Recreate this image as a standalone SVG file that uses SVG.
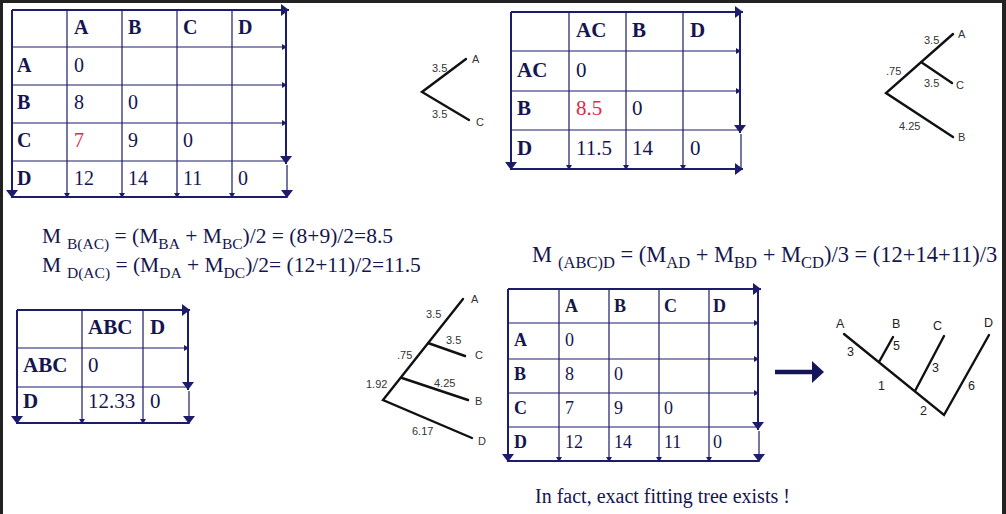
<svg xmlns="http://www.w3.org/2000/svg" width="1006" height="514" viewBox="0 0 1006 514">
<style>
.g{stroke:#1c1c6b;stroke-width:1.2;fill:none}
.gt{stroke:#1c1c6b;stroke-width:2;fill:none}
.h{font-family:"Liberation Serif",serif;font-weight:bold;fill:#15154f}
.v{font-family:"Liberation Serif",serif;fill:#15154f}
.red{fill:#e0284a}
.t1{font-size:20px}
.t2{font-size:21px}
.t4{font-size:18px}
.e{stroke:#111;stroke-width:2.4;fill:none;stroke-linecap:round}
.l{font-family:"Liberation Sans",Arial,sans-serif;font-size:11px;fill:#333}
.lf{font-family:"Liberation Sans",Arial,sans-serif;font-size:12.5px;fill:#222}
.f{font-family:"Liberation Serif",serif;font-size:21.5px;fill:#15154f}
.s{font-size:15.5px}
.f3{font-size:22.5px}
.s3{font-size:16.5px}
</style>
<defs>
<marker id="sm" viewBox="0 0 5 6" refX="5" refY="3" markerWidth="5" markerHeight="6" orient="auto" markerUnits="userSpaceOnUse"><path d="M0,0L5,3L0,6z" fill="#1c1c6b"/></marker>
<marker id="lg" viewBox="0 0 8 12" refX="8" refY="6" markerWidth="8" markerHeight="12" orient="auto" markerUnits="userSpaceOnUse"><path d="M0,0L8,6L0,12z" fill="#1c1c6b"/></marker>
</defs>
<rect width="1006" height="514" fill="#fff"/>
<rect x="0" y="0" width="1006" height="3" fill="#222"/>
<rect x="0" y="0" width="3" height="514" fill="#222"/>
<rect x="1002" y="0" width="4" height="514" fill="#222"/>

<!-- Table 1 -->
<g id="table1">
<g class="g">
<path class="gt" d="M12,10H289" marker-end="url(#lg)"/>
<path d="M12,47H287" marker-end="url(#sm)"/>
<path d="M12,85H287" marker-end="url(#sm)"/>
<path d="M12,123H287" marker-end="url(#sm)"/>
<path d="M12,161H286"/>
<path class="gt" d="M286,10V164" marker-end="url(#lg)"/>
<path d="M287,165V198" marker-end="url(#lg)"/>
<path class="gt" d="M12,197H287"/>
<path class="gt" d="M12,10V198" marker-end="url(#lg)"/>
<path d="M67,10V198" marker-end="url(#sm)"/>
<path d="M122,10V198" marker-end="url(#sm)"/>
<path d="M177,10V198" marker-end="url(#sm)"/>
<path d="M232,10V198" marker-end="url(#sm)"/>
</g>
<g class="h t1"><text x="74" y="34">A</text><text x="128" y="34">B</text><text x="183" y="34">C</text><text x="238" y="34">D</text>
<text x="17" y="72">A</text><text x="17" y="109">B</text><text x="17" y="147">C</text><text x="17" y="185">D</text></g>
<g class="v t1"><text x="74" y="72">0</text><text x="74" y="109">8</text><text x="128" y="109">0</text>
<text x="74" y="147" class="red">7</text><text x="128" y="147">9</text><text x="183" y="147">0</text>
<text x="74" y="185">12</text><text x="128" y="185">14</text><text x="183" y="185">11</text><text x="238" y="185">0</text></g>
</g>

<!-- Table 2 -->
<g id="table2">
<g class="g">
<path class="gt" d="M511,12H743" marker-end="url(#lg)"/>
<path d="M511,51H741" marker-end="url(#sm)"/>
<path d="M511,91H741" marker-end="url(#sm)"/>
<path d="M511,130H740"/>
<path class="gt" d="M740,12V133" marker-end="url(#lg)"/>
<path d="M741,134V168"/>
<path class="gt" d="M511,169H743" marker-end="url(#lg)"/>
<path class="gt" d="M511,12V170" marker-end="url(#lg)"/>
<path d="M569,12V170" marker-end="url(#sm)"/>
<path d="M626,12V170" marker-end="url(#sm)"/>
<path d="M683,12V170" marker-end="url(#sm)"/>
</g>
<g class="h t2"><text x="576" y="37">AC</text><text x="632" y="37">B</text><text x="690" y="37">D</text>
<text x="517" y="77">AC</text><text x="517" y="115">B</text><text x="517" y="155">D</text></g>
<g class="v t2"><text x="576" y="77">0</text><text x="576" y="115" class="red">8.5</text><text x="632" y="115">0</text>
<text x="576" y="155">11.5</text><text x="632" y="155">14</text><text x="690" y="155">0</text></g>
</g>

<!-- Table 3 -->
<g id="table3">
<g class="g">
<path class="gt" d="M17,310H190" marker-end="url(#lg)"/>
<path d="M17,348H189" marker-end="url(#sm)"/>
<path d="M17,387H188"/>
<path class="gt" d="M188,310V390" marker-end="url(#lg)"/>
<path d="M189,391V424" marker-end="url(#lg)"/>
<path class="gt" d="M17,423H189"/>
<path class="gt" d="M17,310V424" marker-end="url(#lg)"/>
<path d="M82,310V424" marker-end="url(#sm)"/>
<path d="M143,310V424" marker-end="url(#sm)"/>
</g>
<g class="h t2"><text x="88" y="334">ABC</text><text x="150" y="334">D</text>
<text x="23" y="372">ABC</text><text x="23" y="408">D</text></g>
<g class="v t2"><text x="88" y="372">0</text><text x="88" y="408">12.33</text><text x="150" y="408">0</text></g>
</g>

<!-- Table 4 -->
<g id="table4">
<g class="g">
<path class="gt" d="M508,289H761" marker-end="url(#lg)"/>
<path d="M508,323H759" marker-end="url(#sm)"/>
<path d="M508,359H759" marker-end="url(#sm)"/>
<path d="M508,393H759" marker-end="url(#sm)"/>
<path d="M508,427H758"/>
<path class="gt" d="M758,289V430" marker-end="url(#lg)"/>
<path d="M759,431V462" marker-end="url(#lg)"/>
<path class="gt" d="M508,461H759"/>
<path class="gt" d="M508,289V462" marker-end="url(#lg)"/>
<path d="M559,289V462" marker-end="url(#sm)"/>
<path d="M609,289V462" marker-end="url(#sm)"/>
<path d="M659,289V462" marker-end="url(#sm)"/>
<path d="M709,289V462" marker-end="url(#sm)"/>
</g>
<g class="h t4"><text x="565" y="312">A</text><text x="614" y="312">B</text><text x="664" y="312">C</text><text x="713" y="312">D</text>
<text x="514" y="346">A</text><text x="514" y="380">B</text><text x="514" y="414">C</text><text x="514" y="448">D</text></g>
<g class="v t4"><text x="565" y="346">0</text><text x="565" y="380">8</text><text x="614" y="380">0</text>
<text x="565" y="414">7</text><text x="614" y="414">9</text><text x="664" y="414">0</text>
<text x="565" y="448">12</text><text x="614" y="448">14</text><text x="664" y="448">11</text><text x="713" y="448">0</text></g>
</g>

<!-- Trees (connectors) -->
<g id="connectors">
<path class="e" d="M466,59L422,92L469,120"/>
<path class="e" d="M953,34L886,93L953,137M921,62L952,83"/>
<path class="e" d="M463,299L383,400L472,438M428,343L465,356M402,378L468,400"/>
<path class="e" d="M844,334L944,415L989,335M879,362L893,337M915,391L944,336"/>
<path d="M775,372H814" stroke="#15155a" stroke-width="4.5"/>
<path d="M812,361L824,372L812,383z" fill="#15155a"/>
</g>

<g id="tree1" class="l">
<text x="432" y="72">3.5</text><text x="472" y="63">A</text>
<text x="432" y="118">3.5</text><text x="476" y="126">C</text>
</g>
<g id="tree2" class="l">
<text x="924" y="44">3.5</text><text x="958" y="38">A</text>
<text x="886" y="75">.75</text><text x="924" y="87">3.5</text><text x="956" y="89">C</text>
<text x="899" y="130">4.25</text><text x="958" y="141">B</text>
</g>
<g id="tree3" class="l">
<text x="471" y="303">A</text><text x="426" y="318">3.5</text><text x="446" y="344">3.5</text><text x="475" y="359">C</text>
<text x="397" y="359">.75</text><text x="366" y="388">1.92</text><text x="434" y="387">4.25</text><text x="475" y="405">B</text>
<text x="412" y="435">6.17</text><text x="478" y="445">D</text>
</g>
<g id="tree4" class="lf">
<text x="836" y="328">A</text><text x="892" y="328">B</text><text x="933" y="330">C</text><text x="984" y="327">D</text>
<text x="847" y="356">3</text><text x="893" y="350">5</text><text x="878" y="390">1</text><text x="932" y="372">3</text>
<text x="920" y="415">2</text><text x="968" y="390">6</text>
</g>

<g id="formulas" class="f">
<text x="42" y="243">M<tspan class="s" x="67" dy="6">B(AC)</tspan><tspan dy="-6"> = (M</tspan><tspan class="s" dy="6">BA</tspan><tspan dy="-6"> + M</tspan><tspan class="s" dy="6">BC</tspan><tspan dy="-6">)/2 = (8+9)/2=8.5</tspan></text>
<text x="42" y="272">M<tspan class="s" x="67" dy="6">D(AC)</tspan><tspan dy="-6"> = (M</tspan><tspan class="s" dy="6">DA</tspan><tspan dy="-6"> + M</tspan><tspan class="s" dy="6">DC</tspan><tspan dy="-6">)/2= (12+11)/2=11.5</tspan></text>
<text x="532" y="262" class="f3">M<tspan class="s3" x="558" dy="6">(ABC)D</tspan><tspan dy="-6"> = (M</tspan><tspan class="s3" dy="6">AD</tspan><tspan dy="-6"> + M</tspan><tspan class="s3" dy="6">BD</tspan><tspan dy="-6"> + M</tspan><tspan class="s3" dy="6">CD</tspan><tspan dy="-6">)/3 = (12+14+11)/3</tspan></text>
<text x="535" y="503" font-size="20">In fact, exact fitting tree exists !</text>
</g>
</svg>
